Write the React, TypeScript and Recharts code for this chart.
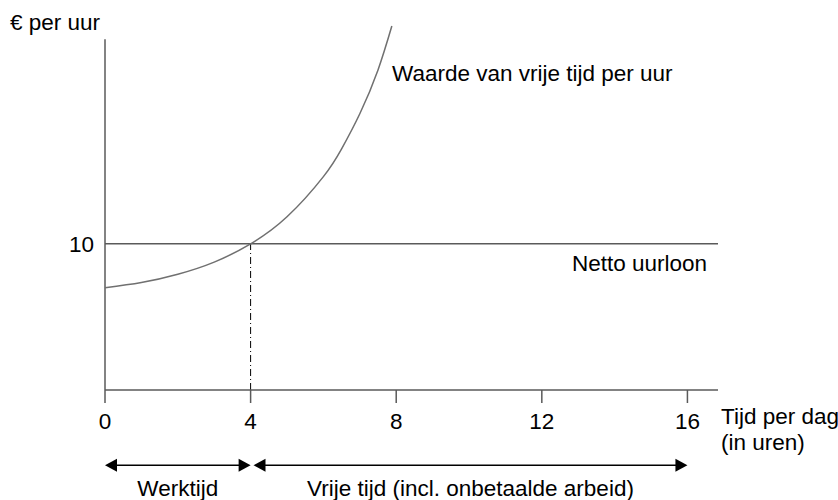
import { LineChart, Line, XAxis, YAxis, ReferenceLine } from "recharts";

const hours = [0, 1, 2, 3, 4, 5, 6, 6.5, 7, 7.5, 7.88];
const freeTimeValue = [7, 7.35, 7.92, 8.75, 10, 11.85, 14.6, 16.5, 18.9, 21.9, 24.9];
const xTicks = [0, 4, 8, 12, 16];
const yTicks = [10];
const netWage = 10;
const workHours = 4;
const dayHours = 16;

const data = hours.map((h, i) => ({ hours: h, value: freeTimeValue[i] }));

const FONT = "'Liberation Sans', Arial, sans-serif";
const FS = 22.5;
const LINE = "#5a5a5a";
const ARROW_Y = -5.15;

function ArrowShape(props: any) {
  const { x1, y1, x2, label } = props;
  const y = y1;
  const a = 12;
  const h = 6.5;
  return (
    <g>
      <line x1={x1 + 4} y1={y} x2={x2 - 4} y2={y} stroke="#000" strokeWidth={1.5} />
      <polygon points={`${x1},${y} ${x1 + a},${y - h} ${x1 + a},${y + h}`} fill="#000" />
      <polygon points={`${x2},${y} ${x2 - a},${y - h} ${x2 - a},${y + h}`} fill="#000" />
      <text
        x={(x1 + x2) / 2}
        y={y + 31}
        textAnchor="middle"
        fontSize={FS}
        fontFamily={FONT}
        fill="#000"
      >
        {label}
      </text>
    </g>
  );
}

export default function App() {
  return (
    <div style={{ position: "absolute", left: 0, top: 0, width: 838, height: 500, background: "#fff" }}>
      <LineChart
        width={838}
        height={500}
        data={data}
        margin={{ top: 10, right: 120, bottom: 80, left: 65 }}
      >
        <XAxis
          dataKey="hours"
          type="number"
          domain={[0, 16.84]}
          ticks={xTicks}
          allowDataOverflow
          height={30}
          stroke={LINE}
          strokeWidth={1.5}
          tickSize={13}
          tickMargin={10}
          tick={{ fill: "#000", fontSize: FS, fontFamily: FONT }}
          axisLine={{ stroke: LINE, strokeWidth: 1.5 }}
          tickLine={{ stroke: LINE, strokeWidth: 1.5 }}
        />
        <YAxis
          type="number"
          domain={[0, 26]}
          ticks={yTicks}
          allowDataOverflow
          width={40}
          axisLine={false}
          tickLine={false}
          tickSize={0}
          tickMargin={11}
          tick={{ fill: "#000", fontSize: FS, fontFamily: FONT }}
        />
        <ReferenceLine
          segment={[{ x: 0, y: 0 }, { x: 0, y: 24 }]}
          stroke={LINE}
          strokeWidth={1.5}
        />
        <ReferenceLine y={netWage} stroke={LINE} strokeWidth={1.5} />
        <ReferenceLine
          segment={[{ x: workHours, y: 0 }, { x: workHours, y: netWage }]}
          stroke="#000"
          strokeWidth={1}
          strokeDasharray="7 3 1 3"
        />
        <ReferenceLine
          segment={[{ x: 0, y: ARROW_Y }, { x: workHours, y: ARROW_Y }]}
          ifOverflow="visible"
          shape={(p: any) => <ArrowShape {...p} label="Werktijd" />}
        />
        <ReferenceLine
          segment={[{ x: workHours + 0.08, y: ARROW_Y }, { x: dayHours, y: ARROW_Y }]}
          ifOverflow="visible"
          shape={(p: any) => <ArrowShape {...p} label="Vrije tijd (incl. onbetaalde arbeid)" />}
        />
        <Line
          type="natural"
          dataKey="value"
          stroke="#707070"
          strokeWidth={1.5}
          dot={false}
          isAnimationActive={false}
        />
      </LineChart>
      <svg
        width={838}
        height={500}
        style={{ position: "absolute", left: 0, top: 0, pointerEvents: "none" }}
        fontFamily={FONT}
        fontSize={FS}
        fill="#000"
      >
        <text x={10} y={30}>€ per uur</text>
        <text x={392} y={81}>Waarde van vrije tijd per uur</text>
        <text x={707} y={271} textAnchor="end">Netto uurloon</text>
        <text x={721} y={424}>Tijd per dag</text>
        <text x={721} y={450}>(in uren)</text>
      </svg>
    </div>
  );
}
